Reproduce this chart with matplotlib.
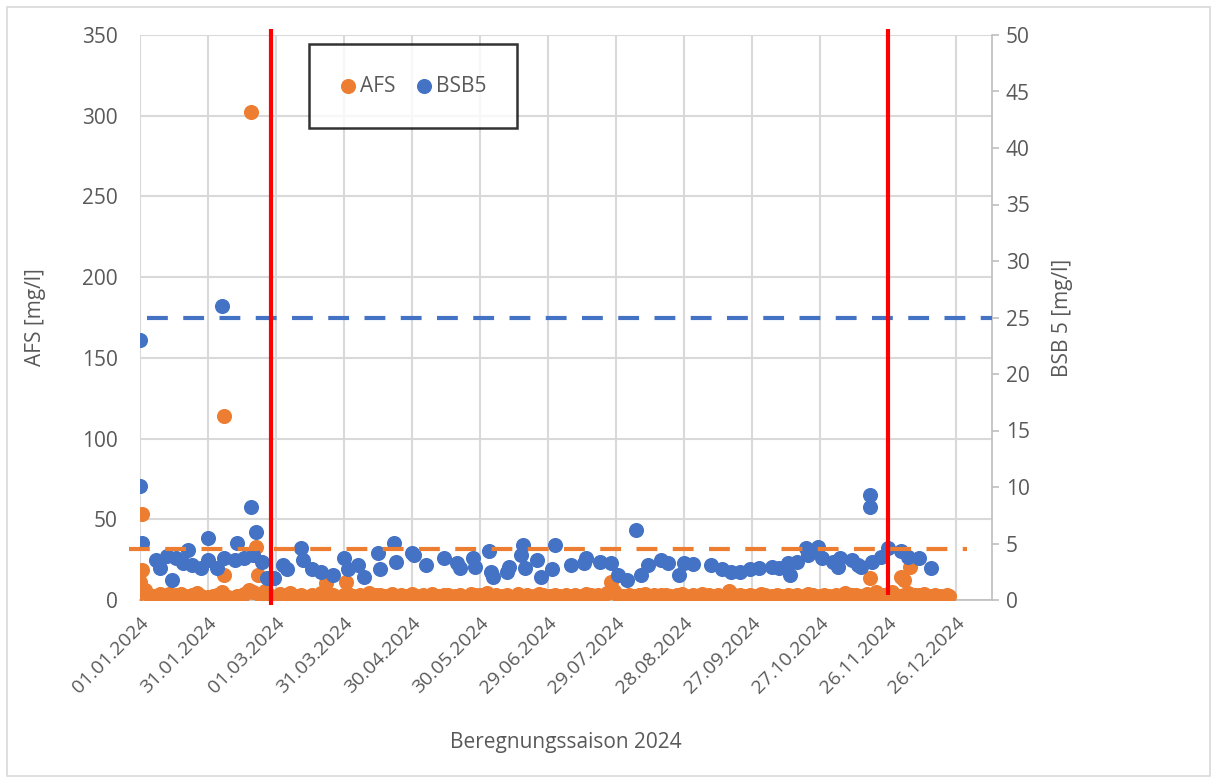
import matplotlib
matplotlib.use("Agg")
import matplotlib.pyplot as plt
import matplotlib.dates as mdates
from matplotlib.patches import Rectangle
import numpy as np
import pandas as pd

plt.rcParams['font.family'] = ['Open Sans', 'DejaVu Sans']

start = pd.Timestamp('2024-01-01')

# AFS [mg/l] - Tag im Jahr (ab 01.01.2024) und Messwert
afs_day = [0, 2, 4, 6, 9, 11, 13, 16, 18, 20,
           23, 25, 27, 30, 32, 34, 36, 39, 41, 43,
           46, 48, 50, 53, 55, 57, 59, 62, 64, 66,
           69, 71, 73, 76, 78, 80, 83, 85, 87, 90,
           92, 94, 97, 99, 101, 104, 106, 108, 111, 113,
           115, 118, 120, 122, 125, 127, 129, 132, 134, 136,
           139, 141, 143, 146, 148, 150, 153, 155, 157, 160,
           162, 164, 167, 169, 171, 174, 176, 178, 181, 183,
           185, 188, 190, 192, 195, 197, 199, 202, 204, 206,
           209, 211, 213, 216, 218, 220, 223, 225, 227, 230,
           232, 234, 237, 239, 241, 244, 246, 248, 251, 253,
           255, 258, 260, 262, 265, 267, 269, 272, 274, 276,
           279, 281, 283, 286, 288, 290, 293, 295, 297, 300,
           302, 304, 307, 309, 311, 314, 316, 318, 321, 323,
           325, 328, 330, 332, 335, 337, 339, 342, 344, 346,
           349, 351, 353, 356, 357]
afs_val = [4.5, 6.0, 3.2, 2.5, 3.8, 2.1, 4.0, 2.8, 3.5, 2.2,
           3.0, 4.2, 2.6, 1.8, 2.4, 3.1, 5.0, 2.0, 1.5, 2.7,
           3.9, 6.5, 4.8, 3.3, 5.5, 2.9, 1.2, 3.6, 2.5, 4.1,
           2.3, 3.0, 1.9, 3.4, 2.6, 4.4, 2.2, 3.1, 1.8, 2.9,
           3.5, 2.4, 3.0, 2.0, 4.2, 2.8, 3.3, 2.5, 3.7, 2.1,
           3.0, 2.6, 3.8, 2.2, 3.1, 2.7, 4.0, 2.3, 3.4, 2.9,
           2.5, 3.2, 2.0, 3.6, 2.8, 3.1, 4.6, 2.4, 3.0, 2.7,
           3.3, 2.1, 3.9, 2.6, 3.0, 2.4, 3.5, 2.8, 2.2, 3.1,
           2.7, 3.4, 2.3, 3.0, 2.5, 3.8, 2.9, 3.2, 2.4, 4.5,
           5.5, 3.0, 2.6, 3.3, 2.2, 2.9, 3.6, 2.5, 3.1, 2.8,
           3.4, 2.3, 3.0, 4.0, 2.7, 3.2, 2.4, 3.5, 2.9, 2.6,
           3.1, 2.2, 5.8, 3.3, 2.8, 2.5, 3.0, 2.4, 3.6, 2.9,
           2.6, 3.2, 2.3, 3.4, 2.7, 3.0, 2.5, 3.8, 2.9, 2.4,
           3.1, 2.6, 3.3, 2.2, 4.2, 2.8, 3.0, 2.5, 3.5, 2.7,
           4.8, 2.9, 3.6, 5.2, 2.4, 3.3, 4.5, 2.8, 3.1, 4.0,
           2.6, 3.0, 2.2, 3.4, 2.5]
# hoehere AFS-Werte
afs_peak_day = [0, 1, 1, 37, 37, 49, 51, 52, 82, 91, 208, 322, 336, 337, 340]
afs_peak_val = [11.2, 18.6, 53.4, 15.5, 114, 302, 33, 15.5, 10.5, 11.2, 11, 13.7, 14.3, 12.4, 20.5]

# BSB5 [mg/l]
bsb_day = [0, 0, 1, 7, 9, 12, 14, 16, 19, 21,
           23, 27, 30, 30, 34, 36, 37, 42, 43, 46,
           49, 50, 51, 54, 56, 59, 63, 65, 71, 72,
           76, 80, 85, 90, 92, 96, 99, 105, 106, 112,
           113, 120, 121, 126, 134, 140, 141, 147, 148, 154,
           155, 156, 162, 163, 168, 169, 170, 175, 177, 182,
           183, 190, 196, 197, 203, 208, 211, 215, 219, 221,
           224, 230, 233, 238, 240, 244, 252, 257, 261, 265,
           269, 273, 279, 282, 286, 287, 290, 294, 295, 299,
           301, 306, 308, 309, 314, 317, 318, 322, 322, 323,
           327, 330, 336, 339, 344, 349]
bsb_val = [23.0, 10.1, 5.05, 3.5, 2.8, 3.9, 1.8, 3.7, 3.3, 4.4,
           3.1, 2.8, 3.5, 5.5, 2.8, 26.0, 3.7, 3.5, 5.05, 3.7,
           8.2, 4.0, 6.0, 3.4, 1.95, 1.95, 3.1, 2.7, 4.6, 3.5,
           2.7, 2.5, 2.2, 3.7, 2.7, 3.1, 2.0, 4.2, 2.7, 5.05,
           3.4, 4.2, 4.0, 3.1, 3.7, 3.3, 2.8, 3.7, 2.9, 4.3,
           2.5, 2.0, 2.5, 2.9, 4.0, 4.9, 2.8, 3.5, 2.0, 2.7,
           4.9, 3.1, 3.3, 3.7, 3.4, 3.3, 2.2, 1.8, 6.2, 2.2,
           3.1, 3.5, 3.3, 2.2, 3.3, 3.2, 3.1, 2.7, 2.5, 2.5,
           2.7, 2.8, 2.9, 2.8, 3.3, 2.2, 3.4, 4.6, 4.0, 4.7,
           3.7, 3.4, 2.9, 3.7, 3.5, 3.1, 2.9, 9.3, 8.2, 3.4,
           3.8, 4.6, 4.3, 3.8, 3.7, 2.8]

# Grenzwerte und Saisonmarken
bsb_limit = 25
afs_limit = 31.5
season_marks = ['2024-02-28', '2024-11-26']

orange = '#ED7D31'
blue = '#4472C4'
grey_txt = '#595959'
grid_c = '#D9D9D9'

def to_dates(days):
    return start + pd.to_timedelta(days, unit='D')

fig = plt.figure(figsize=(12.17, 7.83), dpi=100)
fig.patches.append(Rectangle((7 / 1217, 7 / 783), 1203 / 1217, 769 / 783,
                             transform=fig.transFigure, fill=False,
                             edgecolor='#D9D9D9', lw=1.2))
ax = fig.add_axes([140 / 1217, 1 - 600 / 783, 852 / 1217, 565 / 783])
ax2 = ax.twinx()

sc_afs = ax.scatter(to_dates(afs_day + afs_peak_day), afs_val + afs_peak_val,
                    s=118, color=orange, zorder=3, label='AFS', linewidths=0)
sc_bsb = ax2.scatter(to_dates(bsb_day), bsb_val, s=118, color=blue, zorder=3,
                     label='BSB5', linewidths=0)

x0 = start
x1 = start + pd.Timedelta(days=376)
ax.set_xlim(x0, x1)
ax.set_ylim(0, 350)
ax2.set_ylim(0, 50)

# Grenzwerte
ax2.plot([start + pd.Timedelta(days=3), x1], [bsb_limit, bsb_limit], color=blue,
         lw=3, dashes=(5, 3.7), zorder=4)
ax2.plot([start - pd.Timedelta(days=5), start + pd.Timedelta(days=365)],
         [afs_limit / 7, afs_limit / 7], color=orange, lw=3, dashes=(5, 3.7),
         zorder=4, clip_on=False)

# Saisonbeginn / -ende
for d, ylo in zip(season_marks, [-3, 3]):
    ax2.plot([pd.Timestamp(d), pd.Timestamp(d)], [ylo / 7, 353.5 / 7], color='#FF0000',
             lw=3, zorder=5, clip_on=False, solid_capstyle='butt')

ticks = [start + pd.Timedelta(days=30 * i) for i in range(13)]
ax.set_xticks(ticks)
ax.xaxis.set_major_formatter(mdates.DateFormatter('%d.%m.%Y'))
ax.set_yticks(np.arange(0, 351, 50))
ax2.set_yticks(np.arange(0, 51, 5))

ax.grid(True, color=grid_c, lw=1.5)
ax.set_axisbelow(True)

for a in (ax, ax2):
    for s in ('top', 'left'):
        a.spines[s].set_visible(False)
ax.spines['right'].set_visible(False)
ax2.spines['bottom'].set_visible(False)
ax.spines['bottom'].set_color('#BFBFBF')
ax.spines['bottom'].set_linewidth(1.2)
ax2.spines['right'].set_color('#BFBFBF')
ax2.spines['right'].set_linewidth(1.2)

ax.tick_params(axis='y', length=0, pad=16, labelsize=15, labelcolor=grey_txt)
ax.tick_params(axis='x', length=0, pad=10, labelsize=14, labelcolor=grey_txt)
ax2.tick_params(axis='y', length=5, width=1.2, color='#BFBFBF', pad=5,
                labelsize=15, labelcolor=grey_txt)
for lab in ax.get_xticklabels():
    lab.set_rotation(45)
    lab.set_ha('right')
    lab.set_rotation_mode('anchor')

ax.set_xlabel('Beregnungssaison 2024', fontsize=15, color=grey_txt, labelpad=25)
ax.set_ylabel('AFS [mg/l]', fontsize=15, color=grey_txt, labelpad=26)
ax2.set_ylabel('BSB 5 [mg/l]', fontsize=15, color=grey_txt, labelpad=16, rotation=90)

leg = fig.legend(handles=[sc_afs, sc_bsb], loc='center',
                 bbox_to_anchor=(413 / 1217, 1 - 86 / 783), ncol=2, fontsize=15,
                 frameon=True, fancybox=False, borderpad=1.5, handletextpad=0.15,
                 columnspacing=1.0, handlelength=0.8, labelcolor=grey_txt)
leg.get_frame().set_edgecolor('black')
leg.get_frame().set_linewidth(1.8)

fig.savefig('out.png', dpi=100)
